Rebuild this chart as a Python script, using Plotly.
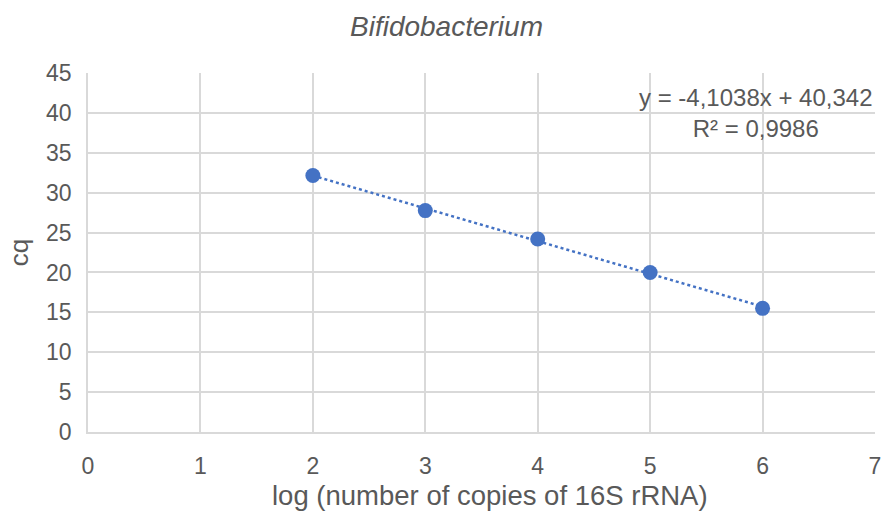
import plotly.graph_objects as go

# Standard curve: log copy number vs quantification cycle
log_copies = [2, 3, 4, 5, 6]
cq_values = [32.15, 27.75, 24.2, 20.0, 15.5]

# Linear trendline coefficients as reported
slope = -4.1038
intercept = 40.342
r_squared = 0.9986

x_ticks = [0, 1, 2, 3, 4, 5, 6, 7]
y_ticks = [0, 5, 10, 15, 20, 25, 30, 35, 40, 45]

blue = "#4472C4"
grey_text = "#595959"
grid = "#D9D9D9"
font = "Liberation Sans, Arial, sans-serif"

trend_x = [min(log_copies), max(log_copies)]
trend_y = [slope * v + intercept for v in trend_x]

fig = go.Figure()
fig.add_trace(go.Scatter(
    x=trend_x, y=trend_y, mode="lines",
    line=dict(color=blue, width=2.5, dash="dot"),
    hoverinfo="skip", showlegend=False,
))
fig.add_trace(go.Scatter(
    x=log_copies, y=cq_values, mode="markers",
    marker=dict(color=blue, size=15),
    showlegend=False,
))

def fmt(v, nd):
    return f"{v:.{nd}f}".replace(".", ",")

eq_text = f"y = {fmt(slope, 4)}x + {fmt(intercept, 3)}<br>R² = {fmt(r_squared, 4)}"
fig.add_annotation(
    x=7.0, y=43.9, xref="x", yref="y", text=eq_text, showarrow=False,
    xanchor="right", yanchor="top", align="center",
    font=dict(family=font, size=24, color=grey_text),
)
# Axis titles
fig.add_annotation(
    x=0.511, y=-0.178, xref="paper", yref="paper",
    text="log (number of copies of 16S rRNA)", showarrow=False,
    xanchor="center", yanchor="middle",
    font=dict(family=font, size=27.5, color=grey_text),
)
fig.add_annotation(
    x=-0.088, y=0.5, xref="paper", yref="paper", text="cq", textangle=-90,
    showarrow=False, xanchor="center", yanchor="middle",
    font=dict(family=font, size=26, color=grey_text),
)

fig.update_layout(
    width=893, height=517,
    margin=dict(l=88, r=12, t=73, b=85),
    paper_bgcolor="white", plot_bgcolor="white",
    title=dict(
        text="<i>Bifidobacterium</i>", x=0.5, xanchor="center",
        y=1 - 26 / 517, yanchor="middle",
        font=dict(family=font, size=28, color=grey_text),
    ),
    font=dict(family=font, color=grey_text),
)
fig.update_xaxes(
    range=[0, 7], tickvals=x_ticks, showgrid=True, gridcolor=grid, gridwidth=1.5,
    zeroline=False, showline=True, linecolor=grid, linewidth=1.5,
    tickfont=dict(size=23, color=grey_text), ticks="", ticklabelstandoff=13,
)
fig.update_yaxes(
    range=[0, 45], tickvals=y_ticks, showgrid=True, gridcolor=grid, gridwidth=1.5,
    zeroline=False, showline=True, linecolor=grid, linewidth=1.5,
    tickfont=dict(size=23, color=grey_text), ticks="", ticklabelstandoff=10,
)

fig.write_html("out.html")
